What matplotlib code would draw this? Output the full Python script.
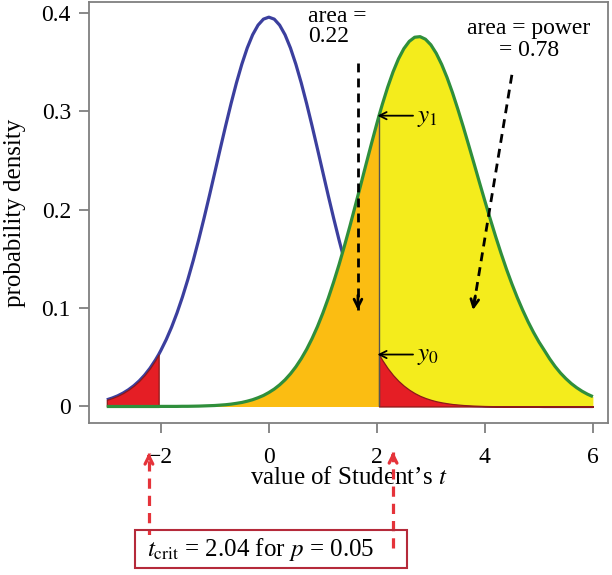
import matplotlib
matplotlib.use("Agg")
import matplotlib.pyplot as plt
import numpy as np
from matplotlib.patches import Rectangle

plt.rcParams['font.family'] = ['Liberation Serif', 'DejaVu Serif']
plt.rcParams['mathtext.fontset'] = 'stix'

# values (t, density of null curve, density of alternative curve)
t_values = [-3.0, -2.9, -2.8, -2.7, -2.6, -2.5, -2.4, -2.3, -2.2, -2.1, -2.04,
            -2.0, -1.9, -1.8, -1.7, -1.6, -1.5, -1.4, -1.3, -1.2, -1.1,
            -1.0, -0.9, -0.8, -0.7, -0.6, -0.5, -0.4, -0.3, -0.2, -0.1,
            0.0, 0.1, 0.2, 0.3, 0.4, 0.5, 0.6, 0.7, 0.8, 0.9,
            1.0, 1.1, 1.2, 1.3, 1.4, 1.5, 1.6, 1.7, 1.8, 1.9,
            2.0, 2.04, 2.1, 2.2, 2.3, 2.4, 2.5, 2.6, 2.7, 2.8, 2.9,
            3.0, 3.1, 3.2, 3.3, 3.4, 3.5, 3.6, 3.7, 3.8, 3.9,
            4.0, 4.1, 4.2, 4.3, 4.4, 4.5, 4.6, 4.7, 4.8, 4.9,
            5.0, 5.1, 5.2, 5.3, 5.4, 5.5, 5.6, 5.7, 5.8, 5.9, 6.0]
null_density = [0.0068, 0.0086, 0.0108, 0.0136, 0.0170, 0.0211, 0.0260, 0.0319, 0.0389, 0.0472, 0.0528,
                0.0569, 0.0680, 0.0807, 0.0951, 0.1112, 0.1290, 0.1483, 0.1692, 0.1913, 0.2143,
                0.2380, 0.2618, 0.2852, 0.3077, 0.3288, 0.3478, 0.3643, 0.3777, 0.3875, 0.3936,
                0.3956, 0.3936, 0.3875, 0.3777, 0.3643, 0.3478, 0.3288, 0.3077, 0.2852, 0.2618,
                0.2380, 0.2143, 0.1913, 0.1692, 0.1483, 0.1290, 0.1112, 0.0951, 0.0807, 0.0680,
                0.0569, 0.0528, 0.0472, 0.0389, 0.0319, 0.0260, 0.0211, 0.0170, 0.0136, 0.0108, 0.0086,
                0.0068, 0.0053, 0.0042, 0.0033, 0.0025, 0.0020, 0.0015, 0.0012, 0.0009, 0.0007,
                0.0005, 0.0004, 0.0003, 0.0003, 0.0002, 0.0002, 0.0001, 0.0001, 0.0001, 0.0001,
                0.0001, 0.0, 0.0, 0.0, 0.0, 0.0, 0.0, 0.0, 0.0, 0.0, 0.0]
alt_density = [0.0, 0.0, 0.0, 0.0, 0.0, 0.0, 0.0, 0.0, 0.0, 0.0, 0.0,
               0.0001, 0.0001, 0.0001, 0.0001, 0.0002, 0.0002, 0.0003, 0.0004, 0.0006, 0.0008,
               0.0010, 0.0014, 0.0018, 0.0024, 0.0032, 0.0041, 0.0054, 0.0069, 0.0089, 0.0112,
               0.0142, 0.0177, 0.0220, 0.0271, 0.0332, 0.0403, 0.0486, 0.0581, 0.0690, 0.0812,
               0.0949, 0.1100, 0.1265, 0.1442, 0.1632, 0.1831, 0.2039, 0.2249, 0.2462, 0.2671,
               0.2875, 0.2955, 0.3068, 0.3244, 0.3400, 0.3532, 0.3636, 0.3710, 0.3752, 0.3758, 0.3732,
               0.3675, 0.3588, 0.3476, 0.3342, 0.3189, 0.3020, 0.2842, 0.2656, 0.2467, 0.2276,
               0.2088, 0.1904, 0.1726, 0.1556, 0.1395, 0.1246, 0.1107, 0.0979, 0.0861, 0.0754,
               0.0657, 0.0571, 0.0484, 0.0407, 0.0340, 0.0283, 0.0233, 0.0191, 0.0155, 0.0125, 0.0100]
t_crit = 2.04
x_ticks = [-2, 0, 2, 4, 6]
y_ticks = [0, 0.1, 0.2, 0.3, 0.4]
y_ticklabels = ["0", "0.1", "0.2", "0.3", "0.4"]

BLUE = "#3b3f9e"
GREEN = "#2f8f3b"
YELLOW = "#f4ec1c"
ORANGE = "#fbbd12"
RED = "#e51e25"
DARKRED = "#8b1a1a"
ARROWRED = "#e5333a"
GREY = "#7f7f7f"
FS_TICK = 17
FS_LAB = 18
FS_ANN = 17

t = np.array(t_values)
b = np.array(null_density)
g = np.array(alt_density)
y1 = g[t_values.index(t_crit)]
y0 = b[t_values.index(t_crit)]

fig = plt.figure(figsize=(6.12, 5.75), dpi=100)
ax = fig.add_axes([0.1454, 0.2643, 0.8481, 0.7322])

ax.plot(t, b, color=BLUE, lw=2.3, zorder=2, solid_capstyle="butt")
ax.fill_between(t, 0, g, where=t <= t_crit, color=ORANGE, lw=0, zorder=3)
ax.fill_between(t, 0, g, where=t >= t_crit, color=YELLOW, lw=0, zorder=3)
ax.fill_between(t, 0, b, where=t <= -t_crit, facecolor=RED, edgecolor=DARKRED, lw=0.9, zorder=4)
ax.fill_between(t, 0, b, where=t >= t_crit, facecolor=RED, edgecolor=DARKRED, lw=0.9, zorder=4)
ax.vlines(t_crit, 0, y1, color="#555555", lw=1.0, zorder=4)
ax.plot(t, g, color=GREEN, lw=2.3, zorder=5, solid_capstyle="butt")

ax.set_xlim(-3.33, 6.28)
ax.set_ylim(-0.0168, 0.411)
ax.set_xticks(x_ticks)
ax.set_yticks(y_ticks)
ax.set_yticklabels(y_ticklabels)
for s in ax.spines.values():
    s.set_color(GREY)
    s.set_linewidth(1.3)
ax.tick_params(axis="both", direction="out", length=7, width=1.3, color=GREY, labelsize=FS_TICK)
ax.tick_params(axis="x", pad=10)
ax.tick_params(axis="y", pad=6)
ax.set_xlabel("value of Student\u2019s $t$", fontsize=FS_LAB)
ax.xaxis.set_label_coords(0.5, -0.104)
ax.set_ylabel("probability density", fontsize=FS_LAB)
ax.yaxis.set_label_coords(-0.122, 0.5)


def dashed_arrow(start, end, color, lw):
    ax.plot([start[0], end[0]], [start[1], end[1]], color=color, lw=lw,
            dashes=(3.2, 2.2), zorder=6, clip_on=False)
    dx = end[0] - start[0]
    dy = end[1] - start[1]
    ax.annotate("", xy=end, xytext=(end[0] - dx * 0.06, end[1] - dy * 0.06),
                arrowprops=dict(arrowstyle="->", color=color, lw=lw,
                                mutation_scale=14, shrinkA=0, shrinkB=0),
                zorder=6, annotation_clip=False)


# area annotations
ax.text(0.72, 0.407, "area =\n0.22", fontsize=FS_ANN, ha="left", va="top", linespacing=0.95, zorder=7)
ax.text(4.81, 0.395, "area = power\n= 0.78", fontsize=FS_ANN, ha="center", va="top",
        linespacing=1.1, zorder=7)
dashed_arrow((1.65, 0.349), (1.65, 0.098), "black", 2.0)
dashed_arrow((4.50, 0.337), (3.78, 0.098), "black", 2.0)

# y1 / y0 markers
for yv, lab in [(y1, "$y_1$"), (y0, "$y_0$")]:
    ax.annotate("", xy=(t_crit - 0.03, yv), xytext=(2.67, yv),
                arrowprops=dict(arrowstyle="->", color="black", lw=1.3,
                                mutation_scale=13, shrinkA=0, shrinkB=0), zorder=7)
    ax.text(2.74, yv - 0.002, lab, fontsize=FS_LAB, ha="left", va="center", zorder=7)

# critical value callout below the axes
dashed_arrow((-2.22, -0.136), (-2.22, -0.047), ARROWRED, 2.3)
dashed_arrow((2.30, -0.144), (2.30, -0.046), ARROWRED, 2.3)
box = Rectangle((-2.48, -0.164), 5.04, 0.0385, fill=False, edgecolor="#b52a3a",
                lw=1.5, clip_on=False, zorder=8)
ax.add_patch(box)
ax.text(-2.26, -0.1455, "$t_{\\rm crit}$ = 2.04 for $p$ = 0.05", fontsize=FS_LAB,
        ha="left", va="center", zorder=9, clip_on=False,
        bbox=dict(facecolor="white", edgecolor="none", pad=0.5))

fig.savefig("out.png", dpi=100)
